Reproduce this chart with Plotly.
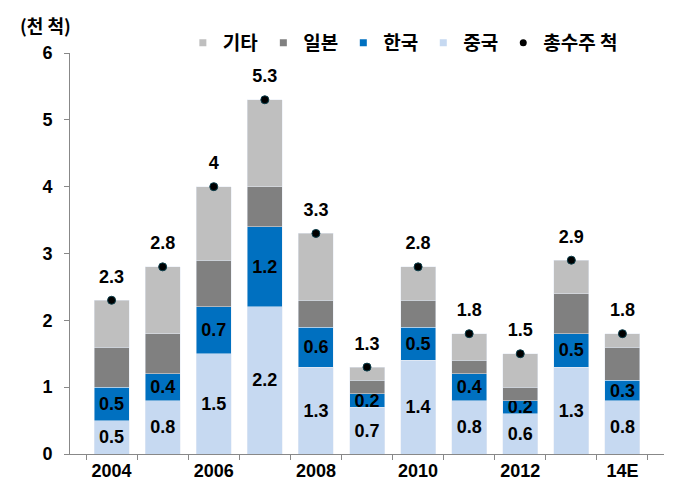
import plotly.graph_objects as go

categories = ["2004", "2005", "2006", "2007", "2008", "2009", "2010", "2011", "2012", "2013", "14E"]
tick_labels = ["2004", "", "2006", "", "2008", "", "2010", "", "2012", "", "14E"]
china = [0.5, 0.8, 1.5, 2.2, 1.3, 0.7, 1.4, 0.8, 0.6, 1.3, 0.8]
korea = [0.5, 0.4, 0.7, 1.2, 0.6, 0.2, 0.5, 0.4, 0.2, 0.5, 0.3]
japan = [0.6, 0.6, 0.7, 0.6, 0.4, 0.2, 0.4, 0.2, 0.2, 0.6, 0.5]
other = [0.7, 1.0, 1.1, 1.3, 1.0, 0.2, 0.5, 0.4, 0.5, 0.5, 0.2]
total = [2.3, 2.8, 4.0, 5.3, 3.3, 1.3, 2.8, 1.8, 1.5, 2.9, 1.8]

series_names = ["기타", "일본", "한국", "중국", "총수주 척"]
colors = {"기타": "#BFBFBF", "일본": "#808080", "한국": "#0070C0", "중국": "#C6D9F1"}

FONT = "Liberation Sans, Arial, Noto Sans CJK KR"
KFONT = "Noto Sans CJK KR, Liberation Sans"
LBL = dict(size=18, color="black", family=FONT, weight="bold")

fig = go.Figure()
fig.add_trace(go.Bar(x=categories, y=china, name="중국", marker_color=colors["중국"],
                     text=[f"{v:.1f}" for v in china], textposition="inside",
                     insidetextanchor="middle", constraintext="none",
                     textfont=LBL, showlegend=False))
fig.add_trace(go.Bar(x=categories, y=korea, name="한국", marker_color=colors["한국"],
                     text=[f"{v:.1f}" for v in korea], textposition="inside",
                     insidetextanchor="middle", constraintext="none",
                     textfont=LBL, showlegend=False))
fig.add_trace(go.Bar(x=categories, y=japan, name="일본", marker_color=colors["일본"], showlegend=False))
fig.add_trace(go.Bar(x=categories, y=other, name="기타", marker_color=colors["기타"], showlegend=False))
# total labels (transparent larger marker to lift the text above the dot)
fig.add_trace(go.Scatter(x=categories, y=total, name="총수주 척 라벨", mode="markers+text",
                         marker=dict(color="rgba(0,0,0,0)", size=19),
                         text=[f"{v:g}" for v in total], textposition="top center",
                         textfont=LBL, cliponaxis=False, showlegend=False, hoverinfo="skip"))
fig.add_trace(go.Scatter(x=categories, y=total, name="총수주 척", mode="markers",
                         marker=dict(color="#000000", size=8, line=dict(color="#0a3d4a", width=1)),
                         cliponaxis=False, showlegend=False))

# legend entries (small square swatches like the original)
for nm in series_names[:4]:
    fig.add_trace(go.Scatter(x=[None], y=[None], mode="markers", name=nm,
                             marker=dict(symbol="square", size=7, color=colors[nm])))
fig.add_trace(go.Scatter(x=[None], y=[None], mode="markers", name=series_names[4],
                         marker=dict(symbol="circle", size=7, color="#000000")))

# page body has an 8px default margin, so the figure is 8px smaller in each direction
fig.update_layout(
    barmode="stack",
    bargap=0.315,
    width=668, height=492,
    margin=dict(l=62, r=12, t=45, b=46),
    plot_bgcolor="white", paper_bgcolor="white",
    font=dict(family=FONT, size=18, color="black", weight="bold"),
    legend=dict(orientation="h", traceorder="normal",
                x=0.19, xanchor="left", y=1.025, yanchor="middle",
                font=dict(family=KFONT, size=19, color="black", weight="bold"),
                itemwidth=30, bgcolor="rgba(0,0,0,0)"),
    xaxis=dict(tickvals=categories, ticktext=tick_labels, tickson="boundaries",
               ticks="outside", ticklen=5, tickcolor="#888888", automargin=False,
               showline=True, linecolor="#888888", linewidth=1, showgrid=False,
               tickfont=dict(family=FONT, size=18, color="black", weight="bold")),
    yaxis=dict(range=[0, 6], dtick=1, ticks="outside", ticklen=5, tickcolor="#888888",
               showline=True, linecolor="#888888", linewidth=1, showgrid=False,
               zeroline=False, ticklabelstandoff=8, automargin=False,
               tickfont=dict(family=FONT, size=18, color="black", weight="bold")),
    annotations=[dict(text="(천 척)", xref="paper", yref="paper",
                      x=-0.0875, y=1.07, xanchor="left", yanchor="middle", showarrow=False,
                      font=dict(family=KFONT, size=18, color="black", weight="bold"))],
)

fig.write_html("out.html")
